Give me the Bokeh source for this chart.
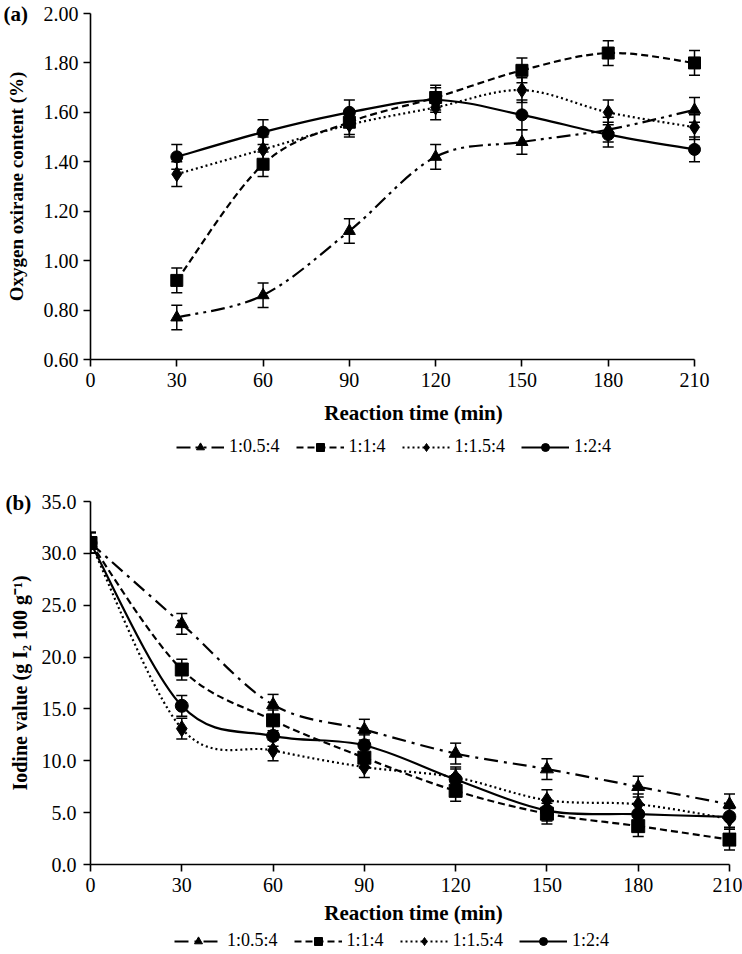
from bokeh.plotting import figure
from bokeh.models import (ColumnDataSource, Whisker, TeeHead, Legend, LegendItem, Title,
                          FixedTicker, NumeralTickFormatter, Range1d)
from bokeh.layouts import column
from bokeh.embed import file_html
from bokeh.resources import INLINE

FONT = "Liberation Serif"

# ---------------- data: panel (a) oxygen oxirane content (%) ----------------
series_names = ["1:0.5:4", "1:1:4", "1:1.5:4", "1:2:4"]
time_a = [30, 60, 90, 120, 150, 180, 210]
oxirane_05 = [0.77, 0.86, 1.12, 1.42, 1.48, 1.53, 1.61]
oxirane_10 = [0.92, 1.39, 1.56, 1.66, 1.77, 1.84, 1.80]
oxirane_15 = [1.35, 1.45, 1.55, 1.62, 1.69, 1.60, 1.54]
oxirane_20 = [1.42, 1.52, 1.60, 1.65, 1.59, 1.51, 1.45]
oxirane_err_05 = [0.05, 0.05, 0.05, 0.05, 0.05, 0.05, 0.05]
oxirane_err_10 = [0.05, 0.05, 0.05, 0.05, 0.05, 0.05, 0.05]
oxirane_err_15 = [0.05, 0.05, 0.05, 0.05, 0.05, 0.05, 0.05]
oxirane_err_20 = [0.05, 0.05, 0.05, 0.05, 0.06, 0.05, 0.05]
ticks_a_x = [0, 30, 60, 90, 120, 150, 180, 210]
ticks_a_y = [0.6, 0.8, 1.0, 1.2, 1.4, 1.6, 1.8, 2.0]

# ---------------- data: panel (b) iodine value ----------------
time_b = [0, 30, 60, 90, 120, 150, 180, 210]
iodine_05 = [31.0, 23.2, 15.4, 13.0, 10.7, 9.2, 7.5, 5.8]
iodine_10 = [31.0, 18.8, 13.9, 10.3, 7.1, 4.9, 3.7, 2.4]
iodine_15 = [31.0, 13.1, 11.0, 9.4, 8.4, 6.2, 5.8, 4.4]
iodine_20 = [31.0, 15.3, 12.4, 11.5, 8.2, 5.2, 4.85, 4.6]
iodine_err_05 = [1.0, 1.0, 1.0, 1.0, 1.0, 1.0, 1.0, 1.0]
iodine_err_10 = [1.0, 1.0, 1.0, 1.0, 1.0, 1.0, 1.0, 1.0]
iodine_err_15 = [1.0, 1.0, 1.0, 1.0, 1.0, 1.0, 1.0, 1.0]
iodine_err_20 = [1.0, 1.0, 1.0, 1.0, 1.0, 1.0, 1.0, 1.0]
ticks_b_x = [0, 30, 60, 90, 120, 150, 180, 210]
ticks_b_y = [0, 5, 10, 15, 20, 25, 30, 35]

markers = ["triangle", "square", "diamond", "circle"]
marker_sizes = [12, 12, 15, 12]
dashes_a = ["14 5 3 5 3 5", "7 4", "2 3", "solid"]
dashes_b = ["14 6 3 6", "7 4", "2 3", "solid"]

BORDER_L = 90   # shared frame left (column aligns frames)
BORDER_R = 6    # shared frame right border


def smooth_segments(xs, ys):
    """Cubic Bezier control points (Catmull-Rom style smoothing, like the original's smoothed lines)."""
    n = len(xs)
    d = dict(x0=[], y0=[], x1=[], y1=[], cx0=[], cy0=[], cx1=[], cy1=[])
    for i in range(n - 1):
        ia, id_ = max(i - 1, 0), min(i + 2, n - 1)
        xa, ya = xs[ia], ys[ia]
        xb, yb = xs[i], ys[i]
        xc, yc = xs[i + 1], ys[i + 1]
        xd, yd = xs[id_], ys[id_]
        d["x0"].append(xb); d["y0"].append(yb)
        d["x1"].append(xc); d["y1"].append(yc)
        d["cx0"].append(xb + (xc - xa) / 6.0); d["cy0"].append(yb + (yc - ya) / 6.0)
        d["cx1"].append(xc - (xd - xb) / 6.0); d["cy1"].append(yc - (yd - yb) / 6.0)
    return d


def style_axes(p, tick_size, xtitle_size, ytitle_size):
    p.xgrid.visible = False
    p.ygrid.visible = False
    p.outline_line_color = None
    p.background_fill_color = "white"
    p.border_fill_color = "white"
    for ax in (p.xaxis, p.yaxis):
        ax.axis_line_color = "black"
        ax.axis_line_width = 1.6
        ax.major_tick_line_color = "black"
        ax.major_tick_line_width = 1.6
        ax.major_tick_in = 0
        ax.major_tick_out = 7
        ax.minor_tick_in = 0
        ax.minor_tick_out = 0
        ax.major_label_text_font = FONT
        ax.major_label_text_font_size = tick_size
        ax.major_label_text_color = "black"
        ax.axis_label_text_font = FONT
        ax.axis_label_text_font_style = "bold"
        ax.axis_label_text_color = "black"
    p.xaxis.axis_label_text_font_size = xtitle_size
    p.yaxis.axis_label_text_font_size = ytitle_size


def add_series(p, xs, ys, errs, marker, dash, msize, head, with_errors=True):
    seg = ColumnDataSource(smooth_segments(xs, ys))
    r_line = p.bezier(x0="x0", y0="y0", x1="x1", y1="y1", cx0="cx0", cy0="cy0",
                      cx1="cx1", cy1="cy1", source=seg, line_color="black",
                      line_width=2.2, line_dash=dash)
    if with_errors:
        err_src = ColumnDataSource(dict(x=xs, lower=[v - e for v, e in zip(ys, errs)],
                                        upper=[v + e for v, e in zip(ys, errs)]))
        w = Whisker(source=err_src, base="x", lower="lower", upper="upper",
                    line_color="black", line_width=1.5,
                    upper_head=TeeHead(size=head, line_color="black", line_width=1.5),
                    lower_head=TeeHead(size=head, line_color="black", line_width=1.5))
        p.add_layout(w)
    r_pts = p.scatter(xs, ys, marker=marker, size=msize, fill_color="black",
                      line_color="black")
    return r_line, r_pts


def legend_figure(height, xs, series, dashes, msize_add, loc):
    """A strip holding only the legend; its series renderers fall outside its (0..1) view."""
    lf = figure(width=742, height=height, x_range=Range1d(-2, -1), y_range=Range1d(-2, -1),
                output_backend="svg", toolbar_location=None,
                x_axis_location=None, y_axis_location=None,
                min_border_left=BORDER_L, min_border_right=BORDER_R, min_border_top=0,
                min_border_bottom=0)
    lf.xgrid.visible = False
    lf.ygrid.visible = False
    lf.outline_line_color = None
    items = []
    for name, ys, mk, ms, dash in zip(series_names, series, markers, marker_sizes, dashes):
        r_line, r_pts = add_series(lf, xs, ys, None, mk, dash, ms + msize_add, 0,
                                   with_errors=False)
        items.append(LegendItem(label=name, renderers=[r_line, r_pts]))
    lg = Legend(items=items, location=loc, orientation="horizontal",
                border_line_color=None, background_fill_alpha=0,
                padding=0, margin=0, glyph_width=48, glyph_height=20,
                label_height=20, label_standoff=5, spacing=16,
                label_text_font=FONT, label_text_font_size="18px",
                label_text_color="black")
    lf.add_layout(lg)
    return lf


def panel_title(text, offset, standoff):
    return Title(text=text, align="left", offset=offset, standoff=standoff,
                 vertical_align="bottom", text_font=FONT, text_font_size="21px",
                 text_font_style="bold", text_color="black")


# ---------------- panel (a) ----------------
pa = figure(width=742, height=436, x_range=Range1d(0, 224.6), y_range=Range1d(0.6, 2.0),
            output_backend="svg", toolbar_location=None,
            min_border_left=BORDER_L, min_border_right=BORDER_R, min_border_top=13,
            min_border_bottom=77)
style_axes(pa, "20px", "21px", "19px")
pa.xaxis.ticker = FixedTicker(ticks=ticks_a_x)
pa.xaxis.bounds = (0, 210)
pa.yaxis.ticker = FixedTicker(ticks=ticks_a_y)
pa.yaxis.formatter = NumeralTickFormatter(format="0.00")
pa.xaxis.axis_label = "Reaction time (min)"
pa.yaxis.axis_label = "Oxygen oxirane content (%)"
pa.xaxis.major_label_standoff = 6
pa.xaxis.axis_label_standoff = 11
pa.yaxis.major_label_standoff = 5
pa.yaxis.axis_label_standoff = 14
pa.title = panel_title("(a)", -87, -25)

series_a = [oxirane_05, oxirane_10, oxirane_15, oxirane_20]
for ys, errs, mk, ms, dash in zip(series_a,
                                  [oxirane_err_05, oxirane_err_10, oxirane_err_15, oxirane_err_20],
                                  markers, marker_sizes, dashes_a):
    add_series(pa, time_a, ys, errs, mk, dash, ms, 11)

la = legend_figure(26, time_a, series_a, dashes_a, 0, (86, 5))

# ---------------- panel (b) ----------------
pb = figure(width=742, height=468, x_range=Range1d(0, 212.3), y_range=Range1d(0, 35),
            output_backend="svg", toolbar_location=None,
            min_border_left=BORDER_L, min_border_right=BORDER_R, min_border_top=39,
            min_border_bottom=66)
style_axes(pb, "20px", "21px", "20px")
pb.xaxis.ticker = FixedTicker(ticks=ticks_b_x)
pb.xaxis.bounds = (0, 210)
pb.yaxis.ticker = FixedTicker(ticks=ticks_b_y)
pb.yaxis.formatter = NumeralTickFormatter(format="0.0")
pb.xaxis.axis_label = "Reaction time (min)"
pb.yaxis.axis_label = "Iodine value (g I\u2082 100 g\u207b\u00b9)"
pb.xaxis.major_label_standoff = 6
pb.xaxis.axis_label_standoff = 6
pb.yaxis.major_label_standoff = 7
pb.yaxis.axis_label_standoff = 8
pb.title = panel_title("(b)", -85, -26)

series_b = [iodine_05, iodine_10, iodine_15, iodine_20]
for ys, errs, mk, ms, dash in zip(series_b,
                                  [iodine_err_05, iodine_err_10, iodine_err_15, iodine_err_20],
                                  markers, marker_sizes, dashes_b):
    add_series(pb, time_b, ys, errs, mk, dash, ms + 1, 11)

lb = legend_figure(22, time_b, series_b, dashes_b, 1, (84, 1))

layout = column(pa, la, pb, lb, spacing=0)
open("out.html", "w").write(file_html(layout, INLINE))
